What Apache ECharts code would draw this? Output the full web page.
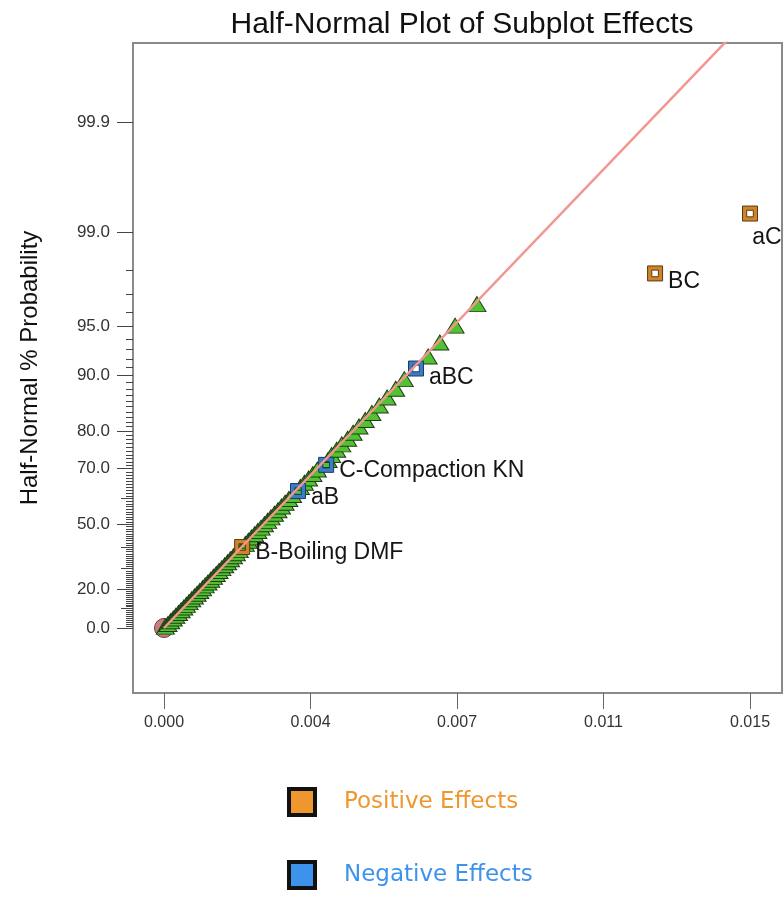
<!DOCTYPE html>
<html>
<head>
<meta charset="utf-8">
<script src="https://cdn.jsdelivr.net/npm/echarts@6/dist/echarts.min.js"></script>
<style>
  html, body { margin: 0; padding: 0; background: #fff; }
  #chart { width: 784px; height: 898px; }
</style>
</head>
<body>
<div id="chart"></div>
<script>
// effect magnitude (x) and half-normal probability in % (y)
const trianglesX = [
  0.000034, 0.000101, 0.000168, 0.000236, 0.000303, 0.000370, 0.000438, 0.000506,
  0.000573, 0.000641, 0.000709, 0.000778, 0.000847, 0.000916, 0.000985, 0.001055,
  0.001125, 0.001195, 0.001266, 0.001337, 0.001409, 0.001481, 0.001554, 0.001627,
  0.001701, 0.001776, 0.001851, 0.001927, 0.002082, 0.002160, 0.002240, 0.002320,
  0.002401, 0.002484, 0.002570, 0.002653, 0.002739, 0.002827, 0.002917, 0.003007,
  0.003099, 0.003194, 0.003290, 0.003491, 0.003594, 0.003701, 0.003812, 0.003925,
  0.004200, 0.004290, 0.004420, 0.004550, 0.004700, 0.004840, 0.004990, 0.005150,
  0.005320, 0.005510, 0.005710, 0.005930, 0.006150, 0.006760, 0.007060, 0.007450,
  0.008010
]
const trianglesP = [
  0.704, 2.113, 3.521, 4.930, 6.338, 7.746, 9.155, 10.563,
  11.972, 13.380, 14.789, 16.197, 17.606, 19.014, 20.423, 21.831,
  23.239, 24.648, 26.056, 27.465, 28.873, 30.282, 31.690, 33.099,
  34.507, 35.915, 37.324, 38.732, 41.549, 42.958, 44.366, 45.775,
  47.183, 48.592, 50.000, 51.408, 52.817, 54.225, 55.634, 57.042,
  58.451, 59.859, 61.268, 64.085, 65.493, 66.901, 68.310, 69.718,
  72.535, 73.944, 75.352, 76.761, 78.169, 79.577, 80.986, 82.394,
  83.803, 85.211, 86.620, 88.028, 89.437, 92.254, 93.662, 95.070,
  96.479
]

const positiveNames = ["B-Boiling DMF", "BC", "aC"]
const positiveX = [0.00200, 0.01257, 0.01500]
const positiveP = [40.141, 97.887, 99.296]

const negativeNames = ["aB", "C-Compaction KN", "aBC"]
const negativeX = [0.00343, 0.00415, 0.00645]
const negativeP = [62.676, 71.127, 90.845]

// reference line through the origin
const fitLineX = [0, 0.0150]
const fitLineP = [0, 99.993]

const xTicks = [0, 0.00375, 0.0075, 0.01125, 0.015]
const xTickLabels = ["0.000", "0.004", "0.007", "0.011", "0.015"]
const yTickLabels = [0.0, 20.0, 50.0, 70.0, 80.0, 90.0, 95.0, 99.0, 99.9]
const yMediumTicks = [10, 30, 40, 60]
const yMinorTicks = []
for (let i = 1; i < 100; i++) {
  if (yTickLabels.indexOf(i) < 0 && yMediumTicks.indexOf(i) < 0) yMinorTicks.push(i)
}

// inverse normal cdf (Acklam)
function normInv(p) {
  const a = [-39.69683028665376, 220.9460984245205, -275.9285104469687, 138.3577518672690, -30.66479806614716, 2.506628277459239]
  const b = [-54.47609879822406, 161.5858368580409, -155.6989798598866, 66.80131188771972, -13.28068155288572]
  const c = [-0.007784894002430293, -0.3223964580411365, -2.400758277161838, -2.549732539343734, 4.374664141464968, 2.938163982698783]
  const d = [0.007784695709041462, 0.3224671290700398, 2.445134137142996, 3.754408661907416]
  const pl = 0.02425
  let q, r
  if (p < pl) {
    q = Math.sqrt(-2 * Math.log(p))
    return (((((c[0] * q + c[1]) * q + c[2]) * q + c[3]) * q + c[4]) * q + c[5]) /
      ((((d[0] * q + d[1]) * q + d[2]) * q + d[3]) * q + 1)
  }
  if (p <= 1 - pl) {
    q = p - 0.5
    r = q * q
    return (((((a[0] * r + a[1]) * r + a[2]) * r + a[3]) * r + a[4]) * r + a[5]) * q /
      (((((b[0] * r + b[1]) * r + b[2]) * r + b[3]) * r + b[4]) * r + 1)
  }
  q = Math.sqrt(-2 * Math.log(1 - p))
  return -(((((c[0] * q + c[1]) * q + c[2]) * q + c[3]) * q + c[4]) * q + c[5]) /
    ((((d[0] * q + d[1]) * q + d[2]) * q + d[3]) * q + 1)
}
// half-normal probability scale
const toZ = (pct) => normInv(0.5 + pct / 200)

const pts = (xs, ps) => xs.map((x, i) => [x, toZ(ps[i])])

const labelFont = { fontFamily: "Liberation Sans, Arial, sans-serif", fontSize: 23, color: "#151515" }
const labelPlace = {
  "B-Boiling DMF": { position: "right", offset: [0, 6] },
  "BC": { position: "right", offset: [0, 8] },
  "aC": { position: "bottom", offset: [17, 0] },
  "aB": { position: "right", offset: [0, 7] },
  "C-Compaction KN": { position: "right", offset: [0, 6] },
  "aBC": { position: "right", offset: [0, 9] }
}
const labelled = (names, xs, ps) => names.map((n, i) => ({
  name: n,
  value: [xs[i], toZ(ps[i])],
  label: Object.assign({ show: true, formatter: n, distance: 5 }, labelFont, labelPlace[n])
}))

const squarePath = "path://M0,0H10V10H0Z M2.8,2.8V7.2H7.2V2.8Z"
const yMin = -0.4227
const yMax = 3.804
const font = "Liberation Sans, Arial, sans-serif"

const chart = echarts.init(document.getElementById("chart"))
const tickAxis = (vals, len) => ({
  type: "value", min: yMin, max: yMax, position: "left",
  axisLine: { show: false, onZero: false },
  splitLine: { show: false },
  axisLabel: { show: false },
  axisTick: { show: true, length: len, customValues: vals.map(toZ), lineStyle: { color: "#444", width: 1 } }
})
const legendItem = (name, color, top) => ({
  left: 287, top: top, padding: 0,
  itemWidth: 26, itemHeight: 26,
  selectedMode: false,
  data: [{
    name: name, icon: "rect",
    itemStyle: { color: color, borderColor: "#111", borderWidth: 4 },
    textStyle: { color: color, fontFamily: "DejaVu Sans, sans-serif", fontSize: 23, padding: [3, 0, 0, 24] }
  }]
})

chart.setOption({
  backgroundColor: "#fff",
  animation: false,
  title: {
    text: "Half-Normal Plot of Subplot Effects",
    left: 457, top: 5, textAlign: "center",
    textStyle: { fontFamily: font, fontSize: 30, fontWeight: "normal", color: "#111" }
  },
  grid: {
    left: 133, top: 43, width: 649, height: 650,
    show: true, borderColor: "#8a8a8a", borderWidth: 2, backgroundColor: "#fff"
  },
  legend: [
    legendItem("Positive Effects", "#f0962f", 787),
    legendItem("Negative Effects", "#3d93ec", 860)
  ],
  xAxis: {
    type: "value", min: -0.000794, max: 0.015819,
    axisLine: { show: false, onZero: false },
    splitLine: { show: false },
    axisTick: { show: true, length: 16, customValues: xTicks, lineStyle: { color: "#666", width: 1 } },
    axisLabel: {
      customValues: xTicks, margin: 22,
      fontFamily: font, fontSize: 16, color: "#333",
      formatter: (v) => {
        let best = 0
        xTicks.forEach((t, i) => { if (Math.abs(t - v) < Math.abs(xTicks[best] - v)) best = i })
        return xTickLabels[best]
      }
    }
  },
  yAxis: [
    {
      type: "value", min: yMin, max: yMax, position: "left",
      name: "Half-Normal % Probability", nameLocation: "middle", nameGap: 91, nameRotate: 90,
      nameTextStyle: { fontFamily: font, fontSize: 24, color: "#111" },
      axisLine: { show: false, onZero: false },
      splitLine: { show: false },
      axisTick: { show: true, length: 16, customValues: yTickLabels.map(toZ), lineStyle: { color: "#444", width: 1 } },
      axisLabel: {
        customValues: yTickLabels.map(toZ), margin: 23,
        fontFamily: font, fontSize: 17, color: "#333",
        formatter: (v) => {
          let best = 0
          yTickLabels.forEach((t, i) => { if (Math.abs(toZ(t) - v) < Math.abs(toZ(yTickLabels[best]) - v)) best = i })
          return yTickLabels[best].toFixed(1)
        }
      }
    },
    tickAxis(yMediumTicks, 12),
    tickAxis(yMinorTicks, 7)
  ],
  series: [
    {
      name: "fit", type: "line", data: pts(fitLineX, fitLineP), symbol: "none", clip: true,
      lineStyle: { color: "#f2968f", width: 2.5 }, silent: true
    },
    {
      name: "origin", type: "scatter", data: [[0, 0]], symbol: "circle", symbolSize: 19,
      itemStyle: { color: "#c97f82", borderColor: "#6a3a3a", borderWidth: 1, opacity: 1 }, silent: true
    },
    {
      name: "Effects", type: "scatter", data: pts(trianglesX, trianglesP),
      symbol: "triangle", symbolSize: [18, 15],
      itemStyle: { color: "#52c132", borderColor: "#1f3d14", borderWidth: 1, opacity: 1 }
    },
    {
      name: "Positive Effects", type: "scatter", data: labelled(positiveNames, positiveX, positiveP),
      symbol: squarePath, symbolSize: 15, clip: false,
      itemStyle: { color: "#d0842a", borderColor: "#5a3a12", borderWidth: 1, opacity: 1 }
    },
    {
      name: "Negative Effects", type: "scatter", data: labelled(negativeNames, negativeX, negativeP),
      symbol: squarePath, symbolSize: 15, clip: false,
      itemStyle: { color: "#3a7dc4", borderColor: "#1d3a63", borderWidth: 1, opacity: 1 }
    }
  ]
})
</script>
</body>
</html>
